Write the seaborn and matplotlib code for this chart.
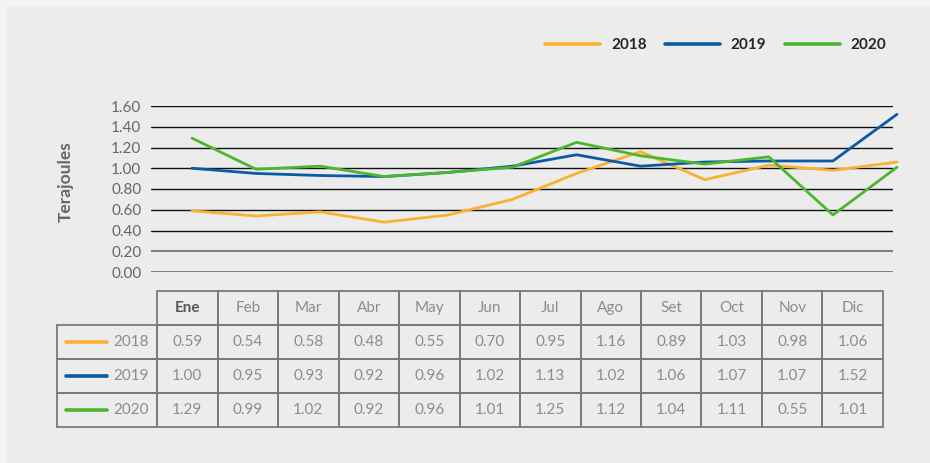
import matplotlib
matplotlib.use("Agg")
import matplotlib.pyplot as plt
import seaborn as sns
import pandas as pd
from matplotlib.patches import Rectangle

months = ["Ene", "Feb", "Mar", "Abr", "May", "Jun", "Jul", "Ago", "Set", "Oct", "Nov", "Dic"]
years = ["2018", "2019", "2020"]
v2018 = [0.59, 0.54, 0.58, 0.48, 0.55, 0.70, 0.95, 1.16, 0.89, 1.03, 0.98, 1.06]
v2019 = [1.00, 0.95, 0.93, 0.92, 0.96, 1.02, 1.13, 1.02, 1.06, 1.07, 1.07, 1.52]
v2020 = [1.29, 0.99, 1.02, 0.92, 0.96, 1.01, 1.25, 1.12, 1.04, 1.11, 0.55, 1.01]
yticks = [0.0, 0.2, 0.4, 0.6, 0.8, 1.0, 1.2, 1.4, 1.6]

colors = {"2018": "#fbb12f", "2019": "#0b5aa6", "2020": "#4cb630"}

df = pd.DataFrame({
    "mes": list(range(12)) * 3,
    "valor": v2018 + v2019 + v2020,
    "anio": [y for y in years for _ in months],
})

sns.set_style("white")
plt.rcParams["font.family"] = ["Lato", "DejaVu Sans"]

W, H = 930, 463
fig = plt.figure(figsize=(W / 100, H / 100), dpi=100)
fig.patch.set_facecolor("#f4f4f4")
fig.patches.append(Rectangle((7 / W, 0), 1, 1 - 6 / H, transform=fig.transFigure,
                             facecolor="#ececec", edgecolor="none", zorder=-1))

# line chart
ax = fig.add_axes([151 / W, 1 - 272 / H, 742 / W, 166 / H])
ax.set_facecolor("none")
sns.lineplot(data=df, x="mes", y="valor", hue="anio", palette=colors, ax=ax,
             linewidth=2.0, clip_on=False, zorder=3)
px = (897 - 192) / 11
ax.set_xlim(-(192 - 151) / px, 11 + (893 - 897) / px)
ax.set_ylim(0, 1.6)
ax.set_yticks(yticks)
ax.set_yticklabels([f"{t:.2f}" for t in yticks], color="#666666", fontsize=11)
ax.set_xticks([])
ax.set_xlabel("")
ax.set_ylabel("")
ax.tick_params(axis="y", length=0, pad=7)
for s in ax.spines.values():
    s.set_visible(False)
for t in yticks:
    ax.axhline(t, color="#6a6a6a" if t < 0.3 else "#111111", lw=1.2 if t < 0.3 else 1.0, zorder=1)

fig.text(66 / W, 1 - 182 / H, "Terajoules", rotation=90, ha="center", va="center",
         fontsize=12.5, fontweight="bold", color="#666666")

handles, labels = ax.get_legend_handles_labels()
leg = ax.legend(handles, labels, loc="center right", bbox_to_anchor=(886 / W, 1 - 45 / H),
                bbox_transform=fig.transFigure, ncol=3, frameon=False, borderpad=0,
                borderaxespad=0, handlelength=3.6, handletextpad=0.7, columnspacing=1.2,
                prop={"weight": "bold", "size": 11})
for line in leg.get_lines():
    line.set_linewidth(2.6)

# data table (row-label column sits left of the bbox)
tax = fig.add_axes([57 / W, 1 - 427 / H, 826 / W, 136 / H])
tax.axis("off")
cell_text = [[f"{v:.2f}" for v in vals] for vals in (v2018, v2019, v2020)]
tbl = tax.table(cellText=cell_text, colLabels=months, colWidths=[60.5 / 826] * 12,
                cellLoc="center", colLoc="center", bbox=[100 / 826, 0, 726 / 826, 1])
h = tbl[(1, 0)].get_height()
for i, y in enumerate(years):
    tbl.add_cell(i + 1, -1, width=100 / 826, height=h, text=y, loc="right")
tbl.auto_set_font_size(False)
tbl.set_fontsize(11)
for (r, c), cell in tbl.get_celld().items():
    cell.set_facecolor("none")
    cell.set_edgecolor("#7a7a7a")
    cell.set_linewidth(1.3)
    txt = cell.get_text()
    txt.set_color("#8c8c8c")
    if c == -1:
        cell.PAD = 0.08
    if r == 0 and c == 0:
        txt.set_fontweight("bold")
        txt.set_color("#555555")

for i, y in enumerate(years):
    yc = 1 - (i + 1.5) / 4
    tax.plot([(66 - 57) / 826, (107 - 57) / 826], [yc, yc], color=colors[y], lw=2.6,
             transform=tax.transAxes, clip_on=False)

fig.savefig("out.png", dpi=100, facecolor=fig.get_facecolor())
